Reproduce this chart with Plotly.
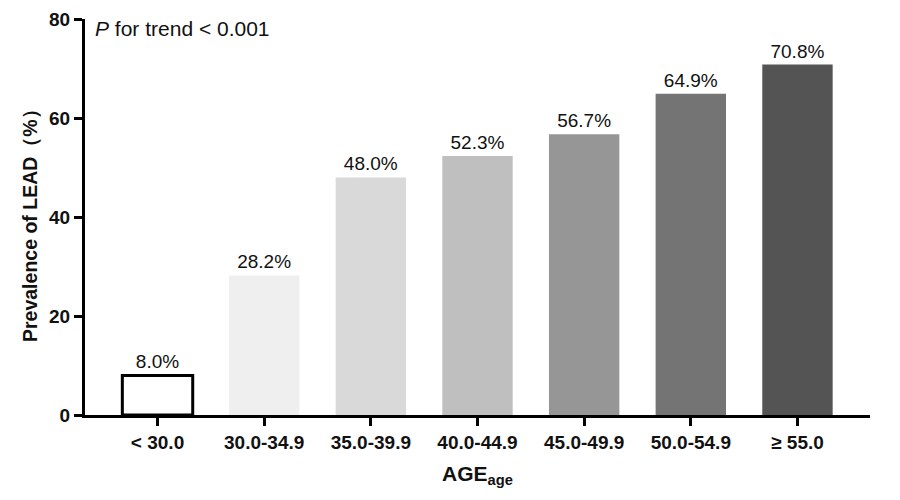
import plotly.graph_objects as go

categories = ["< 30.0", "30.0-34.9", "35.0-39.9", "40.0-44.9", "45.0-49.9", "50.0-54.9", "≥ 55.0"]
prevalence = [8.0, 28.2, 48.0, 52.3, 56.7, 64.9, 70.8]
bar_colors = ["#ffffff", "#efefef", "#d9d9d9", "#bfbfbf", "#969696", "#747474", "#545454"]
line_colors = ["#000000", "#efefef", "#d9d9d9", "#bfbfbf", "#969696", "#747474", "#545454"]
line_widths = [3, 0, 0, 0, 0, 0, 0]
y_ticks = [0, 20, 40, 60, 80]

FONT = "Liberation Sans, Arial, sans-serif"
xs = list(range(len(categories)))

fig = go.Figure()
fig.add_trace(go.Bar(
    x=xs, y=prevalence, width=0.66,
    marker=dict(color=bar_colors, line=dict(color=line_colors, width=line_widths)),
    text=[f"{v:.1f}%" for v in prevalence], textposition="outside",
    textfont=dict(family=FONT, size=19, color="#111"),
    cliponaxis=False,
))

fig.update_layout(
    width=900, height=500,
    margin=dict(l=77, r=38, t=11, b=93),
    plot_bgcolor="white", paper_bgcolor="white",
    showlegend=False,
    font=dict(family=FONT, color="#111"),
    xaxis=dict(
        range=[-0.68, 6.68], tickmode="array", tickvals=xs,
        ticktext=["<b>" + c + "</b>" for c in categories],
        tickfont=dict(size=19, color="#111"),
        showline=True, linecolor="black", linewidth=3,
        ticks="outside", ticklen=8, tickwidth=3, tickcolor="black",
        showgrid=False, zeroline=False, automargin=False,
        title=dict(text="<b>AGE<sub>age</sub></b>", font=dict(size=21)),
    ),
    yaxis=dict(
        range=[0, 80], tickvals=y_ticks,
        ticktext=["<b>" + str(t) + "</b>" for t in y_ticks],
        tickfont=dict(size=19, color="#111"),
        showline=True, linecolor="black", linewidth=3,
        ticks="outside", ticklen=8, tickwidth=3, tickcolor="black",
        showgrid=False, zeroline=False, automargin=False,
    ),
    annotations=[
        dict(
            x=0.01, y=1.01, xref="paper", yref="paper", xanchor="left", yanchor="top",
            text="<i>P</i> for trend < 0.001", showarrow=False,
            font=dict(family=FONT, size=21, color="#111"),
        ),
        dict(
            x=-0.07, y=0.49, xref="paper", yref="paper", xanchor="center", yanchor="middle",
            text="<b>Prevalence of LEAD（%）</b>", textangle=-90, showarrow=False,
            font=dict(family=FONT, size=19.5, color="#111"),
        ),
    ],
)

fig.write_html("out.html")
